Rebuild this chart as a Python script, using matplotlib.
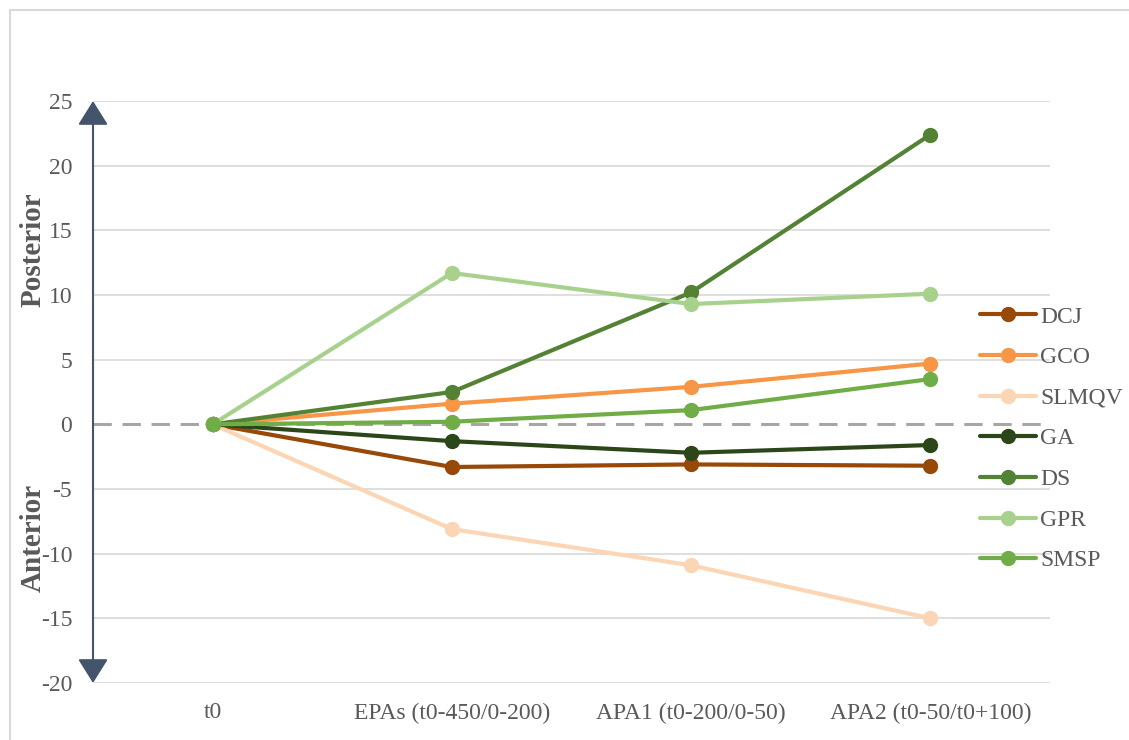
import matplotlib.pyplot as plt
from matplotlib.patches import Rectangle

categories = ["t0", "EPAs (t0-450/0-200)", "APA1 (t0-200/0-50)", "APA2 (t0-50/t0+100)"]

dcj = [0, -3.3, -3.1, -3.2]
gco = [0, 1.6, 2.9, 4.7]
slmqv = [0, -8.1, -10.9, -15.0]
ga = [0, -1.3, -2.2, -1.6]
ds = [0, 2.5, 10.2, 22.4]
gpr = [0, 11.7, 9.3, 10.1]
smsp = [0, 0.2, 1.1, 3.5]

series = [
    ("DCJ", dcj, "#984807"),
    ("GCO", gco, "#F79646"),
    ("SLMQV", slmqv, "#FCD5B5"),
    ("GA", ga, "#2B4618"),
    ("DS", ds, "#548235"),
    ("GPR", gpr, "#A9D18E"),
    ("SMSP", smsp, "#70AD47"),
]

plt.rcParams["font.family"] = ["Liberation Serif", "DejaVu Serif"]
plt.rcParams["axes.unicode_minus"] = False

fig = plt.figure(figsize=(11.29, 7.40), dpi=100)
ax = fig.add_axes([93 / 1129, 1 - 683 / 740, (1050 - 93) / 1129, (683 - 101) / 740])

# chart area border
fig.patches.append(Rectangle((10 / 1129, -0.1), 1.2, 1.1 - 10 / 740, transform=fig.transFigure,
                             fill=False, edgecolor="#d9d9d9", linewidth=1.5))

x = list(range(len(categories)))
for name, vals, color in series:
    ax.plot(x, vals, color=color, linewidth=3.0, marker="o", markersize=10,
            label=name, solid_capstyle="round", zorder=3)

ax.set_xlim(-0.5, 3.5)
ax.set_ylim(-20, 25)
ax.set_yticks(range(-20, 30, 5))
for t in range(-20, 30, 5):
    if t != 0:
        ax.axhline(t, color="#d9d9d9", linewidth=1.2, zorder=1)
ax.axhline(0, color="#a6a6a6", linewidth=2.2, linestyle=(0, (6, 3.5)), zorder=2)

for s in ax.spines.values():
    s.set_visible(False)
ax.set_xticks(x)
ax.set_xticklabels(categories)
ax.tick_params(axis="both", length=0, labelsize=17, colors="#595959")
ax.tick_params(axis="y", pad=15)
ax.tick_params(axis="x", pad=14)

# double-headed arrow along the value axis
ax.annotate("", xy=(-0.5, 25), xytext=(-0.5, -20), xycoords="data",
            arrowprops=dict(arrowstyle="<|-|>,head_length=1.5,head_width=0.94",
                            mutation_scale=10, color="#44546A", linewidth=1.5,
                            shrinkA=0, shrinkB=0),
            annotation_clip=False, zorder=4)

fig.text(33 / 1129, 1 - 250 / 740, "Posterior", rotation=90, ha="center", va="center",
         fontsize=21, fontweight="bold", color="#595959")
fig.text(33 / 1129, 1 - 538 / 740, "Anterior", rotation=90, ha="center", va="center",
         fontsize=21, fontweight="bold", color="#595959")

leg = fig.legend(loc="upper left", bbox_to_anchor=(980 / 1129, 1 - 306 / 740), frameon=False,
                 fontsize=17, handlelength=2.37, labelspacing=0.81, handletextpad=0.17,
                 borderaxespad=0, borderpad=0)
for t in leg.get_texts():
    t.set_color("#595959")

fig.savefig("out.png", dpi=100)
